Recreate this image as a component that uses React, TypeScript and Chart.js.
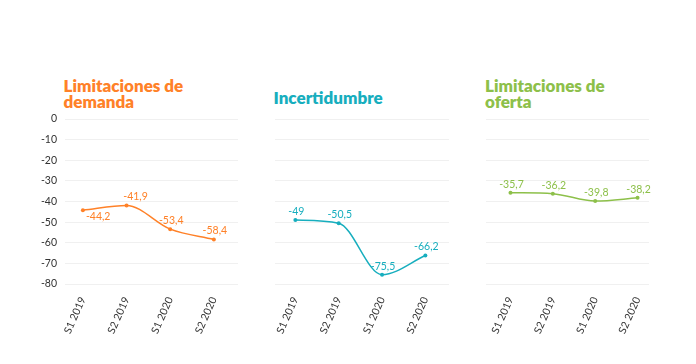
import React, { useEffect, useRef } from "react";
import { Chart, registerables } from "chart.js";

Chart.register(...registerables);

const categories = ["S1 2019", "S2 2019", "S1 2020", "S2 2020"];
const demandaValues = [-44.2, -41.9, -53.4, -58.4];
const incertidumbreValues = [-49, -50.5, -75.5, -66.2];
const ofertaValues = [-35.7, -36.2, -39.8, -38.2];
const yTickValues = [0, -10, -20, -30, -40, -50, -60, -70, -80];
const demandaTitle = ["Limitaciones de", "demanda"];
const incertidumbreTitle = ["Incertidumbre"];
const ofertaTitle = ["Limitaciones de", "oferta"];

const FONT = "Lato, 'Noto Sans', sans-serif";

const fmt = (v: number) => String(v).replace(".", ",");

type PanelProps = {
  values: number[];
  color: string;
  title: string[];
  showY: boolean;
  left: number;
  width: number;
  yAxisWidth: number;
  xMin: number;
  xMax: number;
  titleLeft: number;
  titleTop: number;
  placements: string[];
};

function Panel(p: PanelProps) {
  const ref = useRef<HTMLCanvasElement | null>(null);
  useEffect(() => {
    if (!ref.current) return;
    const labelPlugin = {
      id: "vlabels",
      afterDatasetsDraw(chart: any) {
        const ctx = chart.ctx;
        const meta = chart.getDatasetMeta(0);
        ctx.save();
        ctx.font = "10.5px " + FONT;
        ctx.fillStyle = p.color;
        ctx.textBaseline = "middle";
        meta.data.forEach((pt: any, i: number) => {
          const txt = fmt(p.values[i]);
          const pl = p.placements[i];
          if (pl === "below") {
            ctx.textAlign = "left";
            ctx.fillText(txt, pt.x + 3, pt.y + 6);
          } else if (pl === "aboveRight") {
            ctx.textAlign = "center";
            ctx.fillText(txt, pt.x + 9, pt.y - 9);
          } else {
            ctx.textAlign = "center";
            ctx.fillText(txt, pt.x + 1, pt.y - 8.5);
          }
        });
        ctx.restore();
      },
    };
    const chart = new Chart(ref.current, {
      type: "line",
      data: {
        datasets: [
          {
            data: p.values.map((v, i) => ({ x: i, y: v })),
            borderColor: p.color,
            backgroundColor: p.color,
            borderWidth: 1.5,
            pointRadius: 2,
            pointBorderWidth: 0,
            pointBackgroundColor: p.color,
            cubicInterpolationMode: "monotone",
            fill: false,
            clip: false as any,
          },
        ],
      },
      options: {
        animation: false,
        responsive: false,
        maintainAspectRatio: false,
        layout: { padding: { top: 10, left: 0, right: 0, bottom: 0 } },
        plugins: { legend: { display: false }, tooltip: { enabled: false }, title: { display: false } },
        scales: {
          x: {
            type: "linear",
            min: p.xMin,
            max: p.xMax,
            grid: { display: false },
            border: { display: false },
            afterBuildTicks: (scale: any) => {
              scale.ticks = categories.map((_, i) => ({ value: i }));
            },
            afterFit: (scale: any) => {
              scale.height = 80;
              scale.paddingLeft = 0;
              scale.paddingRight = 0;
            },
            ticks: {
              autoSkip: false,
              minRotation: 66,
              maxRotation: 66,
              padding: 3,
              color: "#333333",
              font: { family: FONT, size: 10.5 },
              callback: (value: any) => categories[value as number] ?? "",
            },
          },
          y: {
            min: -80,
            max: 0,
            afterBuildTicks: (scale: any) => {
              scale.ticks = yTickValues.map((v) => ({ value: v }));
            },
            afterFit: (scale: any) => {
              scale.width = p.yAxisWidth;
              scale.paddingTop = 0;
              scale.paddingBottom = 0;
            },
            grid: { color: "#f0f0f0", lineWidth: 1, drawTicks: false },
            border: { display: false },
            ticks: {
              display: p.showY,
              padding: 8,
              color: "#333333",
              font: { family: FONT, size: 10.5 },
              callback: (value: any) => String(value),
            },
          },
        },
      },
      plugins: [labelPlugin],
    } as any);
    return () => chart.destroy();
  }, []);
  return (
    <>
      <div
        style={{
          position: "absolute",
          left: p.titleLeft,
          top: p.titleTop,
          color: p.color,
          fontFamily: FONT,
          fontWeight: 800,
          fontSize: 17,
          lineHeight: "15.5px",
          whiteSpace: "nowrap",
        }}
      >
        {p.title.map((t, i) => (
          <div key={i}>{t}</div>
        ))}
      </div>
      <canvas
        ref={ref}
        width={p.width}
        height={255}
        style={{ position: "absolute", left: p.left, top: 109, width: p.width, height: 255 }}
      />
    </>
  );
}

export default function App() {
  return (
    <div
      style={{
        position: "absolute",
        left: 0,
        top: 0,
        width: 696,
        height: 364,
        background: "#ffffff",
        overflow: "hidden",
      }}
    >
      <Panel
        values={demandaValues}
        color="#FF8128"
        title={demandaTitle}
        showY={true}
        left={0}
        width={242}
        yAxisWidth={65}
        xMin={-0.41}
        xMax={3.553}
        titleLeft={63.5}
        titleTop={78.4}
        placements={["below", "aboveRight", "above", "above"]}
      />
      <Panel
        values={incertidumbreValues}
        color="#17AEBE"
        title={incertidumbreTitle}
        showY={false}
        left={271}
        width={182}
        yAxisWidth={0}
        xMin={-0.47}
        xMax={3.545}
        titleLeft={273.5}
        titleTop={89.7}
        placements={["above", "above", "above", "above"]}
      />
      <Panel
        values={ofertaValues}
        color="#8DC04A"
        title={ofertaTitle}
        showY={false}
        left={482}
        width={171}
        yAxisWidth={0}
        xMin={-0.578}
        xMax={3.27}
        titleLeft={485}
        titleTop={78.4}
        placements={["above", "above", "above", "above"]}
      />
    </div>
  );
}
